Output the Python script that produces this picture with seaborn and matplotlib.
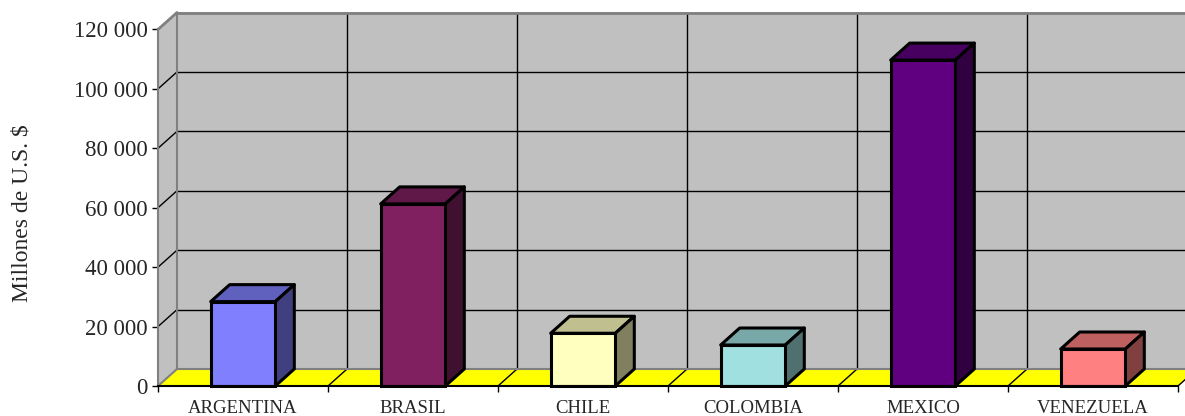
"""
Exportaciones por país, columnas con efecto 3D al estilo de Excel.
"""

import matplotlib
matplotlib.use("Agg")
import matplotlib.pyplot as plt
import seaborn as sns
from matplotlib.patches import Polygon, Rectangle
from matplotlib.ticker import FuncFormatter, FixedLocator

paises = ['ARGENTINA', 'BRASIL', 'CHILE', 'COLOMBIA', 'MEXICO', 'VENEZUELA']
valores = [28400, 61300, 17750, 13800, 109700, 12450]
colores = ['#8080FF', '#802060', '#FFFFC0', '#A0E0E0', '#600080', '#FF8080']
y_ticks = [0, 20000, 40000, 60000, 80000, 100000, 120000]

sns.set_style("white")
plt.rcParams['font.family'] = ['Liberation Serif', 'DejaVu Serif']

W, H = 1185, 416
fig = plt.figure(figsize=(W / 100, H / 100), dpi=100)
# frente del gráfico: x 158..1178 px, y 386 (0) .. 29.5 (120 000)
ax = fig.add_axes([158 / W, (H - 386) / H, 1020 / W, (386 - 29.5) / H])
ax.set_xlim(-0.5, 5.5)
ax.set_ylim(0, 120000)
ax.patch.set_alpha(0)

# profundidad en unidades de datos
dx = 19 / 170
dy = 17 / 356.5 * 120000
ymax = y_ticks[-1]
n = len(paises)

# paredes y piso
ax.add_patch(Rectangle((-0.5 + dx, dy), n, ymax, facecolor='#C0C0C0',
                       edgecolor='none', clip_on=False, zorder=0))
ax.add_patch(Polygon([(-0.5, 0), (-0.5 + dx, dy), (-0.5 + dx, ymax + dy), (-0.5, ymax)],
                     closed=True, facecolor='#C0C0C0', edgecolor='none', clip_on=False, zorder=0))
ax.add_patch(Polygon([(-0.5, 0), (n - 0.5, 0), (n - 0.5 + dx, dy), (-0.5 + dx, dy)],
                     closed=True, facecolor='#FFFF00', edgecolor='none', clip_on=False, zorder=0))

# rejilla
for v in y_ticks[1:-1]:
    ax.plot([-0.5 + dx, n - 0.5 + dx], [v + dy, v + dy], color='black', lw=1, clip_on=False, zorder=1)
    ax.plot([-0.5, -0.5 + dx], [v, v + dy], color='black', lw=1, clip_on=False, zorder=1)
for k in range(1, n + 1):
    xb = k - 0.5
    ax.plot([xb + dx, xb + dx], [dy, ymax + dy], color='black', lw=1, clip_on=False, zorder=1)
    ax.plot([xb, xb + dx], [0, dy], color='black', lw=1, clip_on=False, zorder=1)

# bordes grises de las paredes
gris = '#808080'
ax.plot([-0.5 + dx, n - 0.5 + dx], [ymax + dy, ymax + dy], color=gris, lw=2, clip_on=False, zorder=1)
ax.plot([-0.5, -0.5 + dx], [ymax, ymax + dy], color=gris, lw=2, clip_on=False, zorder=1)
ax.plot([-0.5 + dx, -0.5 + dx], [dy, ymax + dy], color=gris, lw=1.5, clip_on=False, zorder=1)
ax.plot([-0.5, -0.5 + dx], [0, dy], color=gris, lw=1.5, clip_on=False, zorder=1)
ax.plot([-0.5 + dx, n - 0.5 + dx], [dy, dy], color=gris, lw=1.5, clip_on=False, zorder=1)

# columnas
sns.barplot(x=paises, y=valores, hue=paises, palette=colores, legend=False,
            width=0.38, edgecolor='black', linewidth=2.2, saturation=1, ax=ax, zorder=3)

def oscurecer(c, f):
    r, g, b = matplotlib.colors.to_rgb(c)
    return (r * f, g * f, b * f)

barras = [p for cont in ax.containers for p in cont]
barras.sort(key=lambda p: p.get_x())
for p, c in zip(barras, colores):
    x0 = p.get_x()
    x1 = x0 + p.get_width()
    h = p.get_height()
    ax.add_patch(Polygon([(x0, h), (x1, h), (x1 + dx, h + dy), (x0 + dx, h + dy)], closed=True,
                         facecolor=oscurecer(c, 0.75), edgecolor='black', lw=2.2, joinstyle='round',
                         clip_on=False, zorder=3))
    ax.add_patch(Polygon([(x1, 0), (x1 + dx, dy), (x1 + dx, h + dy), (x1, h)], closed=True,
                         facecolor=oscurecer(c, 0.5), edgecolor='black', lw=2.2, joinstyle='round',
                         clip_on=False, zorder=3))
    p.set_clip_on(False)
    p.set_zorder(4)

# ejes
for s in ['top', 'right']:
    ax.spines[s].set_visible(False)
ax.spines['left'].set_color(gris)
ax.spines['left'].set_linewidth(1.5)
ax.spines['left'].set_zorder(2)
ax.spines['bottom'].set_color('black')
ax.spines['bottom'].set_linewidth(1.5)
ax.spines['bottom'].set_zorder(5)

ax.set_yticks(y_ticks)
ax.yaxis.set_major_formatter(FuncFormatter(lambda v, _: f"{int(v):,}".replace(",", " ")))
ax.tick_params(axis='y', length=4, width=1, color='black', pad=3.5, labelsize=16.5, left=True)
ax.xaxis.set_minor_locator(FixedLocator([k - 0.5 for k in range(n + 1)]))
ax.tick_params(axis='x', which='major', length=0, pad=10, labelsize=13.5)
ax.tick_params(axis='x', which='minor', length=4.5, width=1, color='black', bottom=True)
ax.set_xlabel('')
ax.set_ylabel('')
fig.text(22 / W, 1 - 213 / H, 'Millones de U.S. $', rotation=90, ha='center', va='center', fontsize=17)

fig.savefig('out.png', dpi=100)
